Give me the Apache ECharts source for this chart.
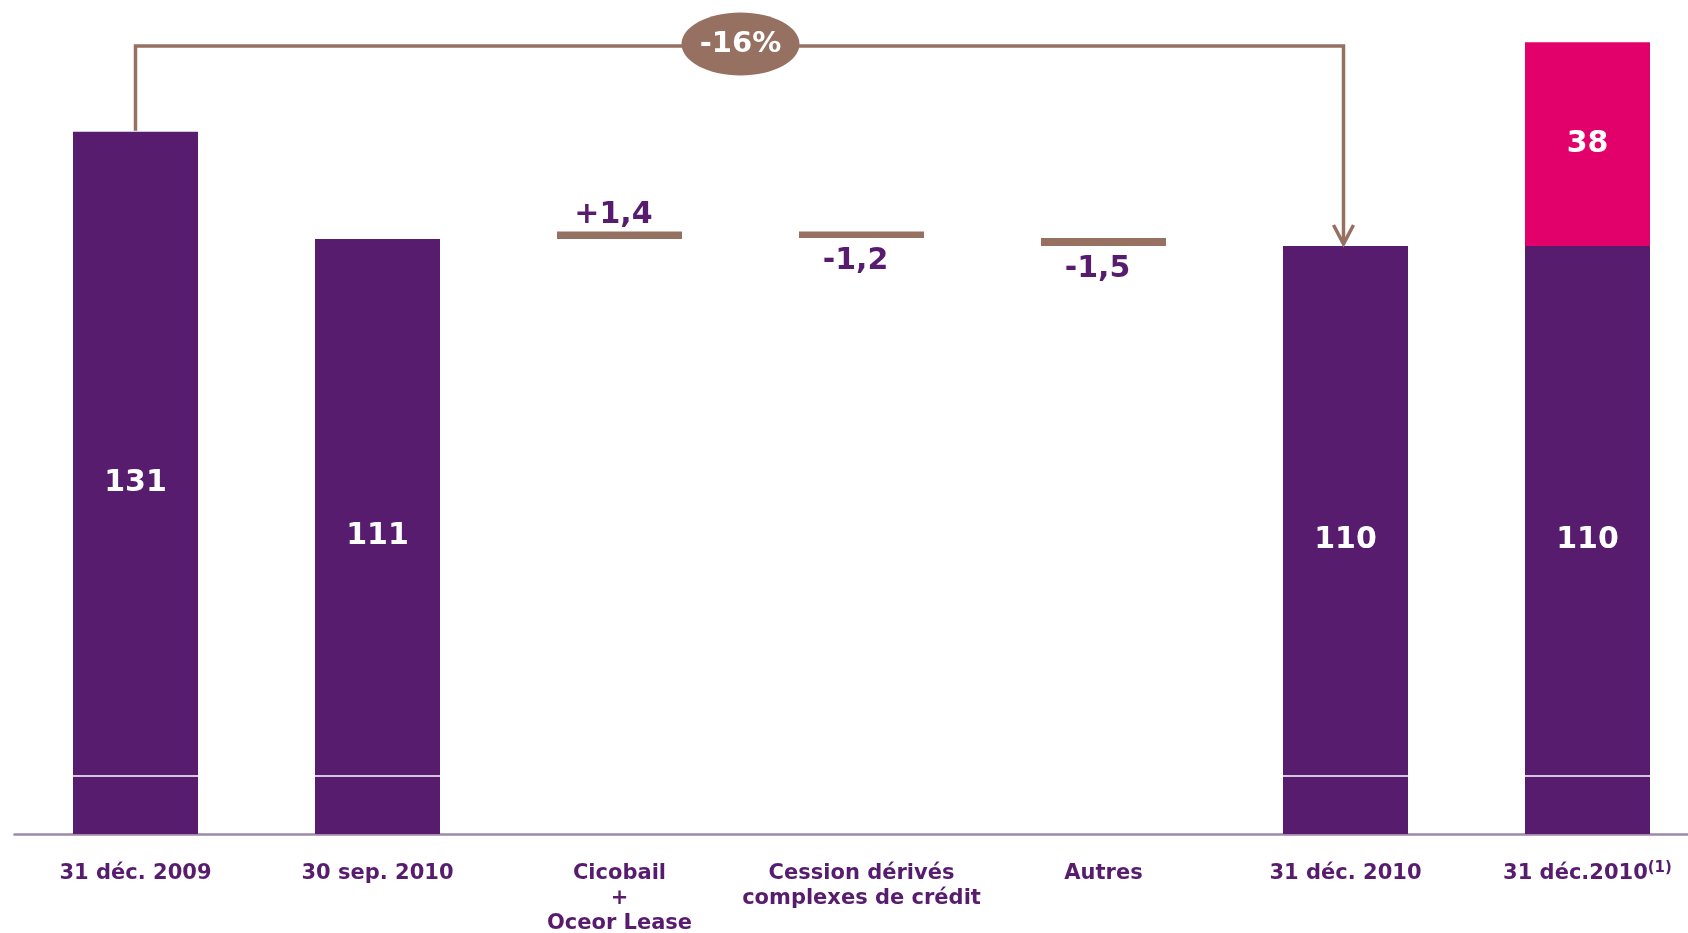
<!DOCTYPE html>
<html>
<head>
<meta charset="utf-8">
<script src="https://cdn.jsdelivr.net/npm/echarts@6/dist/echarts.min.js"></script>
<style>
html,body{margin:0;padding:0;background:#fff;overflow:hidden;}
#chart{width:1688px;height:933px;}
</style>
</head>
<body>
<div id="chart"></div>
<script>
// ---- data ----
const categories = ['31 déc. 2009', '30 sep. 2010', 'Cicobail\n+\nOceor Lease', 'Cession dérivés\ncomplexes de crédit', 'Autres', '31 déc. 2010', '31 déc.2010{sup|(1)}'];
const totals = [131, 111, null, null, null, 109.7, 109.7];
const deltas = [null, null, 1.4, -1.2, -1.5, null, null];
const extra = [null, null, null, null, null, null, 38];
const changeLabel = '-16%';
const changeFrom = 0;
const changeTo = 5;

// ---- styles ----
const PURPLE = '#581c6e';
const PINK = '#e2006a';
const BROWN = '#967060';
const FONT = '"DejaVu Sans", Verdana, sans-serif';

// build waterfall pieces
let running = 0;
const base = [], totalData = [], deltaData = [], extraData = [];
categories.forEach((c, i) => {
  if (totals[i] != null) {
    running = totals[i];
    base.push('-');
    totalData.push(totals[i]);
    deltaData.push('-');
  } else if (deltas[i] != null) {
    const prev = running;
    const next = running + deltas[i];
    base.push(+Math.min(prev, next).toFixed(4));
    totalData.push('-');
    deltaData.push({
      value: Math.abs(deltas[i]),
      delta: deltas[i],
      label: {position: deltas[i] >= 0 ? 'top' : 'bottom', distance: deltas[i] >= 0 ? 1 : 8}
    });
    running = next;
  } else {
    base.push('-'); totalData.push('-'); deltaData.push('-');
  }
  extraData.push(extra[i] != null ? extra[i] : '-');
});

const fmtDelta = d => (d > 0 ? '+' : '') + String(d).replace('.', ',');

const chart = echarts.init(document.getElementById('chart'));
chart.setOption({
  animation: false,
  backgroundColor: '#fff',
  grid: {left: 14.5, right: -20.5, top: 0, bottom: 99, containLabel: false, outerBoundsMode: 'none'},
  xAxis: {
    type: 'category',
    data: categories,
    axisLine: {lineStyle: {color: '#9d8aa8', width: 2.5}},
    axisTick: {show: false},
    axisLabel: {
      interval: 0,
      margin: 27,
      color: PURPLE,
      fontFamily: FONT,
      fontWeight: 'bold',
      fontSize: 21,
      lineHeight: 25,
      hideOverlap: false,
      rich: {
        sup: {fontSize: 15, fontWeight: 'bold', fontFamily: FONT, color: PURPLE, lineHeight: 2, verticalAlign: 'top'}
      }
    }
  },
  yAxis: {type: 'value', min: 0, max: 155.6, show: false, splitLine: {show: false}},
  series: [
    {
      type: 'bar', stack: 'w', barWidth: 125, silent: true,
      itemStyle: {color: 'rgba(0,0,0,0)'},
      data: base
    },
    {
      type: 'bar', stack: 'w', barWidth: 125, silent: true,
      itemStyle: {color: PURPLE},
      label: {
        show: true, position: 'inside', color: '#fff', fontFamily: FONT, fontWeight: 'bold', fontSize: 30,
        formatter: p => String(Math.round(p.value))
      },
      data: totalData,
      markLine: {
        silent: true, symbol: 'none', z: 10,
        label: {show: false},
        lineStyle: {color: '#ffffff', width: 1.5, type: 'solid', opacity: 1},
        data: [{yAxis: 10.8}]
      }
    },
    {
      type: 'bar', stack: 'w', barWidth: 125, silent: true,
      itemStyle: {color: BROWN},
      label: {
        show: true, color: PURPLE, fontFamily: FONT, fontWeight: 'bold', fontSize: 30, offset: [-6, 0],
        formatter: p => fmtDelta(p.data.delta)
      },
      data: deltaData
    },
    {
      type: 'bar', stack: 'w', barWidth: 125, silent: true,
      itemStyle: {color: PINK},
      label: {
        show: true, position: 'inside', color: '#fff', fontFamily: FONT, fontWeight: 'bold', fontSize: 30,
        formatter: p => String(p.value)
      },
      data: extraData
    },
    {
      type: 'custom', silent: true, z: 20, clip: false,
      data: [[changeFrom, changeTo]],
      encode: {x: 0, y: 1},
      renderItem: function (params, api) {
        const a = api.coord([changeFrom, totals[changeFrom]]);
        const b = api.coord([changeTo, totals[changeTo]]);
        const yl = api.coord([changeFrom, 147])[1];
        const mx = (a[0] + b[0]) / 2;
        const ls = {stroke: BROWN, lineWidth: 3.5, fill: null};
        return {
          type: 'group',
          children: [
            {type: 'polyline', shape: {points: [[a[0], a[1] - 1], [a[0], yl], [b[0] - 2, yl], [b[0] - 2, b[1] - 2]]}, style: ls},
            {type: 'polyline', shape: {points: [[b[0] - 12, b[1] - 21], [b[0] - 2, b[1] - 2], [b[0] + 8, b[1] - 21]]}, style: ls},
            {type: 'ellipse', shape: {cx: mx, cy: yl - 2, rx: 59, ry: 31.5}, style: {fill: BROWN}},
            {type: 'text', x: mx, y: yl - 2, style: {text: changeLabel, fill: '#fff', font: 'bold 29px ' + FONT, align: 'center', verticalAlign: 'middle'}}
          ]
        };
      }
    }
  ]
});
</script>
</body>
</html>
